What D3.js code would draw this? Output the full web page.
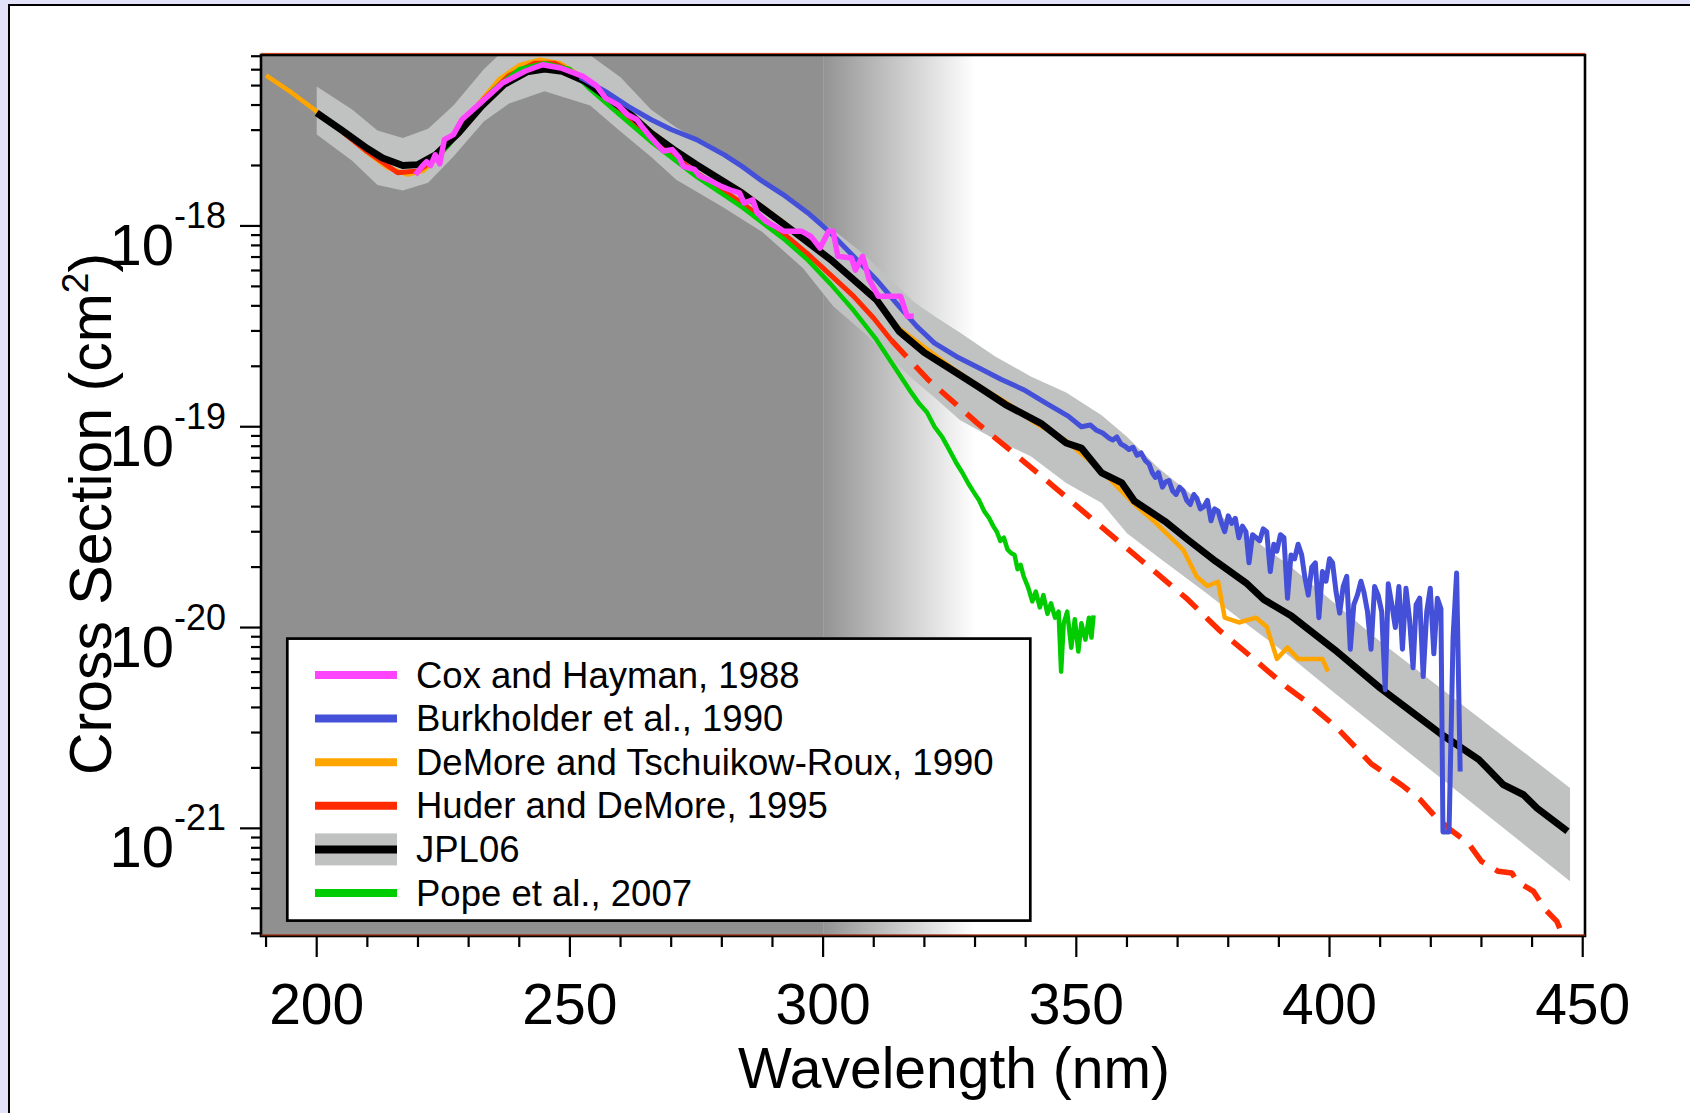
<!DOCTYPE html>
<html>
<head>
<meta charset="utf-8">
<script src="https://cdn.jsdelivr.net/npm/d3@7"></script>
<style>
  html, body { margin: 0; padding: 0; background: #e2e2f8; overflow: hidden; }
  svg { display: block; font-family: "Liberation Sans", Arial, sans-serif; }
</style>
</head>
<body>
<svg id="chart"></svg>
<script>
// Tick values
const xMajorTicks = [200, 250, 300, 350, 400, 450];
const yMajorTicks = [1e-18, 1e-19, 1e-20, 1e-21];

// JPL06 recommendation (black line) and its uncertainty band
const jplWl = [200, 205, 210, 213, 217, 220, 223.5, 228, 232.5, 237, 241.5, 245, 248.5, 253, 257.5, 262, 266, 270.5, 275, 284, 292.5, 301.5, 310.5, 315, 320, 325, 330.5, 336, 343, 348, 351, 355, 359, 361.5, 367.5, 372, 377.5, 383.5, 387, 392.5, 401, 410, 416.5, 422, 429.5, 434.3, 438.3, 441, 447];
const jplCs = [3.66e-18, 2.99e-18, 2.43e-18, 2.18e-18, 2.00e-18, 2.02e-18, 2.26e-18, 2.90e-18, 3.94e-18, 5.06e-18, 5.85e-18, 6.05e-18, 5.89e-18, 5.25e-18, 4.34e-18, 3.58e-18, 2.90e-18, 2.40e-18, 2.02e-18, 1.46e-18, 1.01e-18, 6.79e-19, 4.30e-19, 2.99e-19, 2.34e-19, 1.95e-19, 1.59e-19, 1.29e-19, 1.04e-19, 8.30e-20, 7.83e-20, 5.89e-20, 5.25e-20, 4.26e-20, 3.38e-20, 2.74e-20, 2.14e-20, 1.67e-20, 1.38e-20, 1.14e-20, 7.76e-21, 5.00e-21, 3.76e-21, 2.95e-21, 2.20e-21, 1.65e-21, 1.47e-21, 1.26e-21, 9.68e-22];

const bandWl = [200, 207, 212, 217, 222, 227, 233, 238, 245, 254, 260, 266, 271, 280, 288, 296, 302, 308, 313, 318, 322, 327, 334, 341, 348, 355, 360, 366, 375, 383, 392, 401, 410, 447.5];
const bandHi = [4.95e-18, 3.80e-18, 2.99e-18, 2.74e-18, 3.05e-18, 3.98e-18, 6.03e-18, 7.94e-18, 1.0e-17, 7.08e-18, 5.50e-18, 3.80e-18, 3.09e-18, 2.31e-18, 1.70e-18, 1.20e-18, 9.55e-19, 7.24e-19, 5.50e-19, 4.17e-19, 3.55e-19, 2.95e-19, 2.24e-19, 1.78e-19, 1.48e-19, 1.14e-19, 8.91e-20, 6.31e-20, 4.12e-20, 2.99e-20, 2.04e-20, 1.32e-20, 8.53e-21, 1.59e-21];
const bandLo = [2.85e-18, 2.11e-18, 1.60e-18, 1.50e-18, 1.64e-18, 2.22e-18, 3.31e-18, 4.07e-18, 4.68e-18, 3.98e-18, 2.95e-18, 2.21e-18, 1.70e-18, 1.25e-18, 9.33e-19, 6.17e-19, 3.98e-19, 2.95e-19, 2.24e-19, 1.70e-19, 1.40e-19, 1.08e-19, 8.63e-20, 7.13e-20, 5.25e-20, 4.17e-20, 2.95e-20, 2.26e-20, 1.53e-20, 1.07e-20, 7.24e-21, 4.72e-21, 3.10e-21, 5.45e-22];

// DeMore and Tschuikow-Roux, 1990
const demoreWl = [190, 195, 200, 205, 210, 214, 218, 221, 224, 228, 232, 236, 240, 244, 248, 252, 256, 261, 266, 271, 276, 284, 292, 301, 310, 315, 325, 331, 336, 342, 348, 355, 361.5, 365.6, 371.1, 373.8, 375.9, 378, 379.3, 382.1, 385.5, 387.6, 389.6, 391.7, 393.8, 398.6, 399.7];
const demoreCs = [5.62e-18, 4.62e-18, 3.72e-18, 2.95e-18, 2.32e-18, 1.95e-18, 1.80e-18, 1.88e-18, 2.21e-18, 2.95e-18, 4.07e-18, 5.37e-18, 6.31e-18, 6.73e-18, 6.46e-18, 5.62e-18, 4.62e-18, 3.63e-18, 2.95e-18, 2.37e-18, 1.95e-18, 1.48e-18, 1.05e-18, 6.92e-19, 4.37e-19, 3.09e-19, 2.00e-19, 1.58e-19, 1.33e-19, 1.04e-19, 8.51e-20, 6.03e-20, 4.11e-20, 3.34e-20, 2.44e-20, 1.79e-20, 1.61e-20, 1.69e-20, 1.12e-20, 1.06e-20, 1.12e-20, 1.01e-20, 6.98e-21, 7.96e-21, 6.98e-21, 6.98e-21, 6.04e-21];

// Huder and DeMore, 1995 (measured, then extrapolated)
const huderWl = [205, 210, 216, 220, 224, 228, 233, 238, 243, 247, 251, 257, 266, 275, 284, 292.5, 297, 301.5, 306, 310, 313.5];
const huderCs = [2.95e-18, 2.34e-18, 1.84e-18, 1.88e-18, 2.21e-18, 2.95e-18, 4.27e-18, 5.62e-18, 6.46e-18, 6.46e-18, 5.75e-18, 4.17e-18, 2.69e-18, 1.84e-18, 1.30e-18, 9.02e-19, 7.24e-19, 5.69e-19, 4.47e-19, 3.47e-19, 2.69e-19];
const huderExtWl = [313.5, 320.7, 330.5, 338.4, 345.5, 352.5, 358.7, 365.8, 372, 378.1, 385.2, 391.4, 394.9, 401.3, 408.2, 414.6, 417.9, 420.8, 423.8, 427.4, 430, 433.3, 436, 437, 440.3, 442.6, 444.9, 446, 448.5];
const huderExtCs = [2.69e-19, 1.72e-19, 1.04e-19, 7.13e-20, 5.05e-20, 3.58e-20, 2.64e-20, 1.87e-20, 1.38e-20, 9.77e-21, 6.92e-21, 5.09e-21, 4.38e-21, 3.20e-21, 2.10e-21, 1.62e-21, 1.39e-21, 1.15e-21, 9.86e-22, 8.45e-22, 6.85e-22, 6.11e-22, 6.00e-22, 5.45e-22, 4.85e-22, 3.94e-22, 3.44e-22, 2.95e-22, 2.63e-22];

// Pope et al., 2007
const popeWl = [222, 226, 230, 235, 240, 245, 250, 254, 260, 266, 275, 284, 292.5, 297, 301.5, 306, 310.5, 313.5, 317.5, 319, 320.5, 322, 323.5, 325, 326.3, 327.5, 328.7, 329.8, 330.8, 331.8, 332.8, 333.6, 334.3, 335, 335.7, 336.4, 337.1, 337.8, 338.4, 339, 339.6, 340.5, 341.3, 342, 342.8, 343.5, 344.3, 345, 345.8, 346.5, 347, 347.5, 348.2, 349, 349.7, 350.4, 351, 351.8, 352.5, 353, 353.4];
const popeCs = [2.00e-18, 2.51e-18, 3.39e-18, 4.79e-18, 6.03e-18, 6.46e-18, 6.03e-18, 4.79e-18, 3.55e-18, 2.63e-18, 1.76e-18, 1.24e-18, 8.51e-19, 6.76e-19, 5.13e-19, 3.80e-19, 2.72e-19, 2.09e-19, 1.47e-19, 1.30e-19, 1.18e-19, 1.00e-19, 8.9e-20, 7.6e-20, 6.6e-20, 5.9e-20, 5.2e-20, 4.7e-20, 4.3e-20, 3.8e-20, 3.5e-20, 3.2e-20, 3.0e-20, 2.7e-20, 2.8e-20, 2.45e-20, 2.35e-20, 2.3e-20, 1.95e-20, 2.05e-20, 1.80e-20, 1.58e-20, 1.35e-20, 1.51e-20, 1.26e-20, 1.45e-20, 1.17e-20, 1.32e-20, 1.12e-20, 1.20e-20, 6.03e-21, 1.05e-20, 1.20e-20, 7.94e-21, 1.10e-20, 7.59e-21, 1.05e-20, 8.71e-21, 1.12e-20, 8.91e-21, 1.15e-20];

// Burkholder et al., 1990
const burkWl = [252, 257, 261.5, 266, 270, 275, 280.5, 284, 288, 292.5, 297, 301.5, 306, 310.5, 315, 318.5, 322, 326.3, 330.8, 335.2, 339.6, 344, 348.4, 351, 352.8, 354, 355.2, 356.4, 357.2, 358, 358.8, 359.6, 360.4, 361.2, 362, 362.8, 363.6, 364.4, 365, 365.6, 366.2, 367, 367.6, 368.3, 369, 369.7, 370.4, 371.1, 371.8, 372.5, 373.2, 373.8, 374.5, 375.2, 375.9, 376.6, 377.3, 378, 378.7, 379.3, 380, 380.7, 381.4, 382.1, 382.8, 383.5, 384.1, 384.8, 385.5, 386.2, 386.9, 387.6, 388.3, 389, 389.6, 390.3, 391, 391.7, 392.4, 393.1, 393.8, 394.5, 395.1, 395.8, 396.5, 397.2, 397.9, 398.6, 399.3, 400, 400.6, 401.3, 402, 402.7, 403.4, 404.1, 404.8, 405.5, 406.2, 406.8, 407.5, 408.2, 408.9, 409.6, 410.3, 411, 411.6, 412.3, 413, 413.7, 414.4, 415.1, 415.8, 416.5, 417.1, 417.8, 418.5, 419.2, 419.9, 420.6, 421.3, 422, 422.4, 423.6, 424.4, 425.1, 425.8];
const burkCs = [5.50e-18, 4.68e-18, 3.94e-18, 3.39e-18, 3.02e-18, 2.69e-18, 2.26e-18, 1.98e-18, 1.67e-18, 1.41e-18, 1.16e-18, 9.23e-19, 7.06e-19, 5.40e-19, 3.98e-19, 3.16e-19, 2.61e-19, 2.24e-19, 1.96e-19, 1.72e-19, 1.53e-19, 1.31e-19, 1.13e-19, 1.00e-19, 1.02e-19, 9.6e-20, 9.3e-20, 8.8e-20, 8.6e-20, 8.9e-20, 8.2e-20, 8.0e-20, 7.7e-20, 7.9e-20, 7.2e-20, 7.4e-20, 6.8e-20, 6.5e-20, 5.9e-20, 5.6e-20, 5.9e-20, 5.0e-20, 5.3e-20, 5.4e-20, 4.8e-20, 4.6e-20, 5.0e-20, 4.8e-20, 4.3e-20, 4.1e-20, 4.6e-20, 4.4e-20, 3.9e-20, 4.0e-20, 4.3e-20, 3.4e-20, 3.9e-20, 3.8e-20, 3.3e-20, 3.0e-20, 3.6e-20, 3.3e-20, 3.5e-20, 2.8e-20, 3.2e-20, 3.0e-20, 2.1e-20, 2.9e-20, 2.8e-20, 2.7e-20, 3.1e-20, 3.0e-20, 1.9e-20, 2.6e-20, 2.4e-20, 2.9e-20, 2.8e-20, 1.4e-20, 2.3e-20, 2.2e-20, 2.6e-20, 2.3e-20, 1.8e-20, 1.45e-20, 2.0e-20, 2.1e-20, 1.12e-20, 1.9e-20, 1.7e-20, 2.2e-20, 2.1e-20, 1.5e-20, 1.18e-20, 1.6e-20, 1.8e-20, 7.8e-21, 1.3e-20, 1.45e-20, 1.7e-20, 1.5e-20, 1.2e-20, 7.8e-21, 1.6e-20, 1.45e-20, 1.2e-20, 4.9e-21, 1.65e-20, 1.3e-20, 1.0e-20, 1.6e-20, 7.8e-21, 1.57e-20, 1.1e-20, 6.3e-21, 1.3e-20, 1.4e-20, 5.7e-21, 1.2e-20, 1.57e-20, 7.4e-21, 1.4e-20, 1.24e-20, 9.6e-22, 9.6e-22, 9.0e-21, 1.87e-20, 1.92e-21];

// Cox and Hayman, 1988
const coxWl = [219.5, 220.8, 221.7, 222.5, 223.4, 224.3, 225.2, 227, 228.7, 232.3, 236.7, 241.1, 244.6, 248.2, 252.6, 255.2, 257, 259.6, 261.4, 263.2, 264.1, 265.8, 267.6, 268.5, 270.2, 271.6, 272.4, 274.6, 275.5, 277.3, 280, 281.7, 283.5, 284.4, 286.1, 287, 288.8, 292.3, 295.8, 297.6, 299.4, 301.1, 302, 302.9, 305.6, 306.4, 307.8, 309.1, 310.9, 315.3, 316.6, 317.9];
const coxCs = [1.80e-18, 1.98e-18, 2.09e-18, 2.00e-18, 2.26e-18, 2.04e-18, 2.69e-18, 2.85e-18, 3.39e-18, 4.09e-18, 5.15e-18, 5.89e-18, 6.35e-18, 6.12e-18, 5.56e-18, 5.01e-18, 4.34e-18, 3.98e-18, 3.58e-18, 3.39e-18, 3.16e-18, 2.79e-18, 2.49e-18, 2.36e-18, 2.40e-18, 2.19e-18, 1.98e-18, 1.91e-18, 1.78e-18, 1.70e-18, 1.57e-18, 1.51e-18, 1.46e-18, 1.30e-18, 1.35e-18, 1.16e-18, 1.05e-18, 9.40e-19, 9.40e-19, 8.87e-19, 7.76e-19, 9.40e-19, 9.40e-19, 7.06e-19, 6.92e-19, 6.03e-19, 7.06e-19, 5.40e-19, 4.47e-19, 4.47e-19, 3.55e-19, 3.55e-19];

// Legend entries, top to bottom
const legendLabels = ["Cox and Hayman, 1988", "Burkholder et al., 1990", "DeMore and Tschuikow-Roux, 1990", "Huder and DeMore, 1995", "JPL06", "Pope et al., 2007"];
const legendColors = ["#ff44ff", "#4450d8", "#ffa500", "#ff2a00", "#000000", "#00cc00"];

// Canvas and plot box
const W = 1690, H = 1113;
const plot = { left: 261, right: 1585, top: 55, bottom: 936 };

const svg = d3.select("#chart").attr("width", W).attr("height", H);

// White panel with a black edge, on the lavender page
svg.append("rect")
    .attr("x", 9).attr("y", 5)
    .attr("width", W).attr("height", H)
    .attr("fill", "#fff")
    .attr("stroke", "#000")
    .attr("stroke-width", 2);

// Scales
const x = d3.scaleLinear().domain([189, 450.45]).range([plot.left, plot.right]);
const y = d3.scaleLog().domain([2.91e-22, 7.10e-18]).range([plot.bottom, plot.top]);

const pts = (wl, cs) => wl.map((w, i) => [w, cs[i]]);
const line = d3.line().x(d => x(d[0])).y(d => y(d[1]));

// Clip and background shading (dark below 300 nm, fading out by ~330 nm)
const defs = svg.append("defs");
defs.append("clipPath").attr("id", "plotClip")
  .append("rect")
    .attr("x", plot.left).attr("y", plot.top)
    .attr("width", plot.right - plot.left).attr("height", plot.bottom - plot.top);

const grad = defs.append("linearGradient")
    .attr("id", "fade")
    .attr("gradientUnits", "userSpaceOnUse")
    .attr("x1", x(300)).attr("x2", x(330))
    .attr("y1", 0).attr("y2", 0);
grad.append("stop").attr("offset", 0).attr("stop-color", "#939393");
grad.append("stop").attr("offset", 1).attr("stop-color", "#ffffff");

svg.append("rect")
    .attr("x", plot.left).attr("y", plot.top)
    .attr("width", plot.right - plot.left).attr("height", plot.bottom - plot.top)
    .attr("fill", "#fff");
svg.append("rect")
    .attr("x", plot.left).attr("y", plot.top)
    .attr("width", x(300) - plot.left).attr("height", plot.bottom - plot.top)
    .attr("fill", "#909090");
svg.append("rect")
    .attr("x", x(300)).attr("y", plot.top)
    .attr("width", x(330) - x(300)).attr("height", plot.bottom - plot.top)
    .attr("fill", "url(#fade)");

const g = svg.append("g").attr("clip-path", "url(#plotClip)");

// Uncertainty band
const bandData = bandWl.map((w, i) => ({ wl: w, lo: bandLo[i], hi: bandHi[i] }));
g.append("path")
    .datum(bandData)
    .attr("fill", "#c0c1c1")
    .attr("d", d3.area().x(d => x(d.wl)).y0(d => y(d.lo)).y1(d => y(d.hi)));

// Draws one series
function drawSeries(data, color, width, dash) {
    g.append("path")
        .datum(data)
        .attr("fill", "none")
        .attr("stroke", color)
        .attr("stroke-width", width)
        .attr("stroke-linejoin", "round")
        .attr("stroke-dasharray", dash || null)
        .attr("d", line);
}

drawSeries(pts(demoreWl, demoreCs), "#ffa500", 4.5);
drawSeries(pts(huderWl, huderCs), "#ff2a00", 5);
drawSeries(pts(huderExtWl, huderExtCs), "#ff2a00", 5.5, "22,13");
drawSeries(pts(popeWl, popeCs), "#00cc00", 4.5);
drawSeries(pts(jplWl, jplCs), "#000000", 7);
drawSeries(pts(burkWl, burkCs), "#4450d8", 5);
drawSeries(pts(coxWl, coxCs), "#ff44ff", 5.5);

// Plot frame
svg.append("rect")
    .attr("x", plot.left).attr("y", plot.top)
    .attr("width", plot.right - plot.left).attr("height", plot.bottom - plot.top)
    .attr("fill", "none")
    .attr("stroke", "#000")
    .attr("stroke-width", 2.6);
[plot.top - 1.6, plot.bottom - 1].forEach(yy => {
    svg.append("line")
        .attr("x1", plot.left).attr("x2", plot.right)
        .attr("y1", yy).attr("y2", yy)
        .attr("stroke", "#c83a10").attr("stroke-width", 1);
});

// X axis ticks and labels
const xTicks = d3.range(190, 451, 10);
svg.append("g").selectAll("line")
    .data(xTicks)
    .enter().append("line")
    .attr("x1", d => x(d)).attr("x2", d => x(d))
    .attr("y1", plot.bottom + 1)
    .attr("y2", d => plot.bottom + (xMajorTicks.includes(d) ? 21 : 11))
    .attr("stroke", "#000").attr("stroke-width", 2.2);

svg.append("g").selectAll("text")
    .data(xMajorTicks)
    .enter().append("text")
    .attr("x", d => x(d))
    .attr("y", 1024)
    .attr("text-anchor", "middle")
    .style("font-size", "57px")
    .text(d => d);

// Y axis ticks (log decades with 2..9 minors)
const yMinor = [];
for (let e = -22; e <= -18; e++) {
    for (let m = 2; m <= 9; m++) {
        const v = m * Math.pow(10, e);
        if (v >= y.domain()[0] && v <= y.domain()[1]) yMinor.push(v);
    }
}
svg.append("g").selectAll("line")
    .data(yMinor)
    .enter().append("line")
    .attr("x1", plot.left - 10).attr("x2", plot.left - 1)
    .attr("y1", d => y(d)).attr("y2", d => y(d))
    .attr("stroke", "#000").attr("stroke-width", 2.2);
svg.append("g").selectAll("line")
    .data(yMajorTicks)
    .enter().append("line")
    .attr("x1", plot.left - 21).attr("x2", plot.left - 1)
    .attr("y1", d => y(d)).attr("y2", d => y(d))
    .attr("stroke", "#000").attr("stroke-width", 2.2);

const yLabels = svg.append("g").selectAll("text")
    .data(yMajorTicks)
    .enter().append("text")
    .attr("x", 226)
    .attr("y", d => y(d) + 39)
    .attr("text-anchor", "end");
yLabels.append("tspan").style("font-size", "58px").text("10");
yLabels.append("tspan")
    .attr("dy", -37)
    .style("font-size", "36px")
    .text(d => "-" + Math.round(-Math.log10(d)));

// Axis titles
svg.append("text")
    .attr("x", 954).attr("y", 1088)
    .attr("text-anchor", "middle")
    .style("font-size", "57px")
    .text("Wavelength (nm)");

const yTitle = svg.append("text")
    .attr("transform", "translate(111,514) rotate(-90)")
    .attr("text-anchor", "middle")
    .style("font-size", "59px");
yTitle.append("tspan").text("Cross Section (cm");
yTitle.append("tspan").attr("dy", -23).style("font-size", "37px").text("2");
yTitle.append("tspan").attr("dy", 23).text(")");

// Legend
const lg = svg.append("g");
lg.append("rect")
    .attr("x", 287.3).attr("y", 638.6)
    .attr("width", 743).attr("height", 282)
    .attr("fill", "#fff")
    .attr("stroke", "#000")
    .attr("stroke-width", 2.7);

const rows = lg.selectAll(".legend")
    .data(legendLabels)
    .enter().append("g")
    .attr("class", "legend")
    .attr("transform", (d, i) => `translate(0,${675 + i * 43.6})`);

rows.filter(d => d === "JPL06").append("rect")
    .attr("x", 315).attr("y", -16)
    .attr("width", 82).attr("height", 32)
    .attr("fill", "#c0c1c1");

rows.append("line")
    .attr("x1", 315).attr("x2", 397)
    .attr("y1", 0).attr("y2", 0)
    .attr("stroke", (d, i) => legendColors[i])
    .attr("stroke-width", 8);

rows.append("text")
    .attr("x", 416).attr("y", 12.5)
    .style("font-size", "36.5px")
    .text(d => d);
</script>
</body>
</html>
